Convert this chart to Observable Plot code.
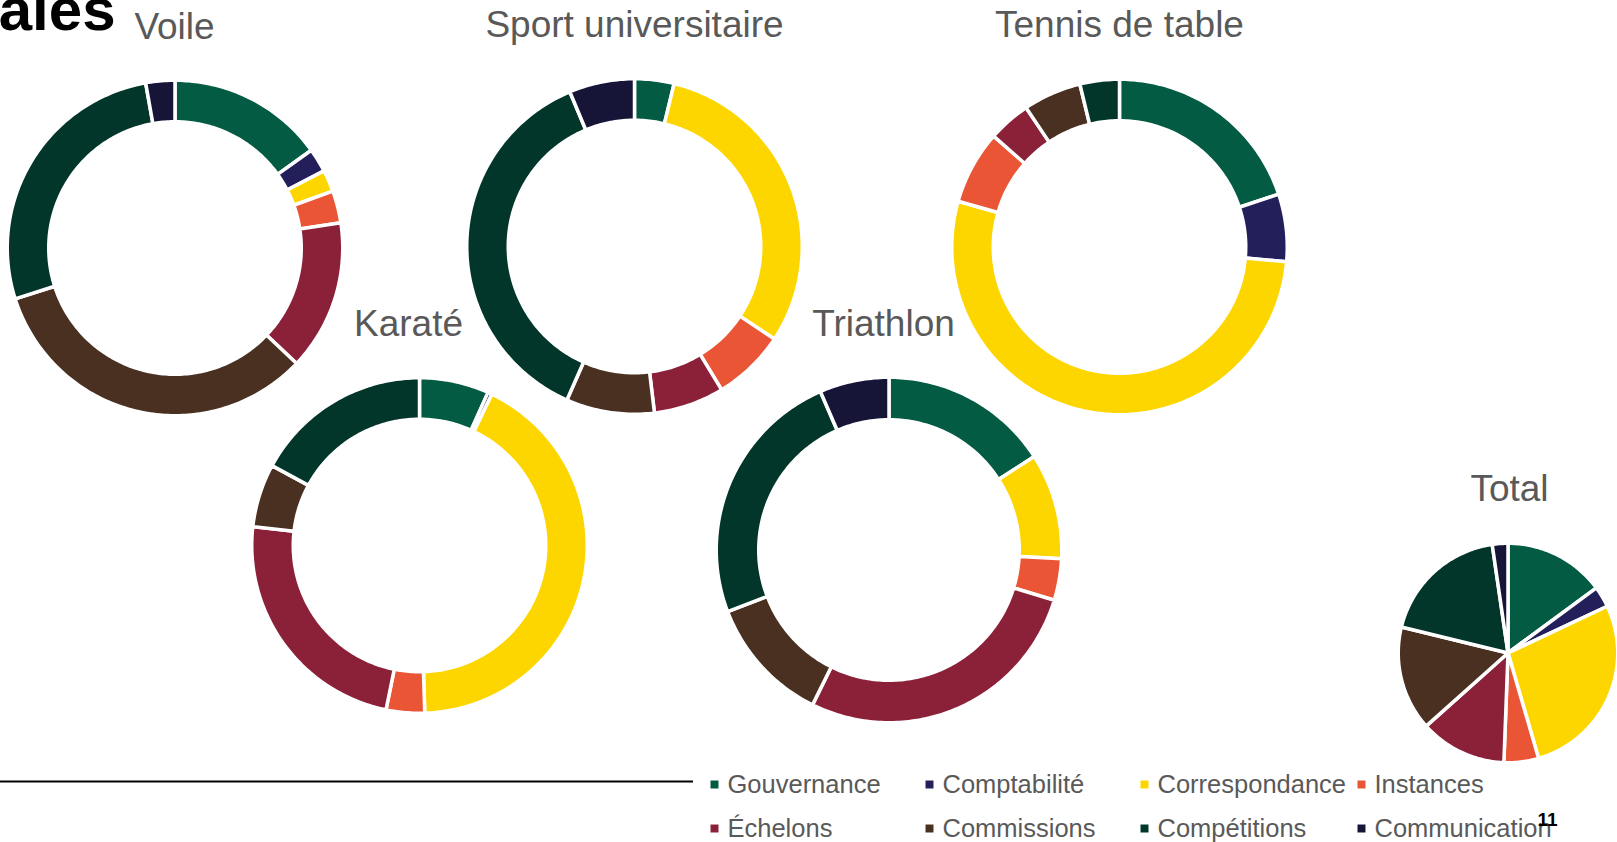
<!DOCTYPE html>
<html>
<head>
<meta charset="utf-8">
<script src="https://cdn.jsdelivr.net/npm/d3@7"></script>
<script src="https://cdn.jsdelivr.net/npm/@observablehq/plot@0.6"></script>
<style>
html,body{margin:0;padding:0;background:#fff;overflow:hidden}
svg{display:block}
</style>
</head>
<body>
<div id="chart"></div>
<script>
// ---------- DATA ----------
const categories = ["Gouvernance","Comptabilité","Correspondance","Instances","Échelons","Commissions","Compétitions","Communication"];
const colors = ["#025B42","#221F5B","#FDD600","#E95535","#8B2139","#4A3020","#02362A","#161538"];
const charts = ["Voile","Sport universitaire","Tennis de table","Karaté","Triathlon","Total"];
// shares in % (order = categories), read clockwise from 12 o'clock
const voile     = [15.1, 2.3, 2.1, 3.1, 14.5, 33.0, 27.1, 2.8];
const sportUniv = [3.8, 0, 30.5, 7.0, 6.8, 8.5, 37.1, 6.3];
const tennis    = [19.9, 6.5, 53.0, 7.1, 4.1, 5.6, 3.8, 0];
const karate    = [6.7, 0.4, 42.4, 3.7, 23.6, 6.1, 17.1, 0];
const triathlon = [15.9, 0, 9.9, 3.9, 27.6, 11.9, 24.3, 6.5];
const total     = [14.9, 3.1, 27.5, 5.1, 12.8, 15.4, 18.9, 2.3];
const seriesValues = [voile, sportUniv, tennis, karate, triathlon, total];
const pageTitle = "ales";
const pageNumber = "11";

// ---------- LAYOUT ----------
const W = 1617, H = 842;
const centers = [[175,248],[634.5,246.5],[1119.5,247],[419.5,545.5],[889,550],[1508,653]];
const outerR = [166,166,166,166,171,108];
const innerR = [128,128,128,128,132,0];
const titlePos = [[174,38],[634,36],[1119,36],[408,335],[883,335],[1509,500]];
const legendX = [714, 929, 1144, 1361];
const legendY = [784, 828];
const gap = 3.5;

// build slice outlines from the values
const slices = [];
charts.forEach((name, ci) => {
  const vals = seriesValues[ci];
  const sum = d3.sum(vals);
  const [cx, cy] = centers[ci];
  const R = outerR[ci] + gap / 2;
  const r = innerR[ci] > 0 ? innerR[ci] - gap / 2 : 0;
  let acc = 0;
  vals.forEach((v, k) => {
    const a0 = acc / sum * 2 * Math.PI;
    acc += v;
    const a1 = acc / sum * 2 * Math.PI;
    if (!(v > 0)) return;
    const n = Math.max(2, Math.ceil((a1 - a0) / (Math.PI / 180)) + 1);
    for (let i = 0; i < n; i++) {
      const a = a0 + (a1 - a0) * i / (n - 1);
      slices.push({
        id: name + "|" + k,
        category: categories[k],
        x1: cx + R * Math.sin(a), y1: cy - R * Math.cos(a),
        x2: cx + r * Math.sin(a), y2: cy - r * Math.cos(a)
      });
    }
  });
});

const titles = charts.map((c, i) => ({label: c, x: titlePos[i][0], y: titlePos[i][1]}));
const legend = categories.map((c, i) => ({category: c, x: legendX[i % 4], y: legendY[Math.floor(i / 4)]}));

const font = '"Liberation Sans", Arial, Helvetica, sans-serif';

const plot = Plot.plot({
  width: W,
  height: H,
  margin: 0,
  x: {domain: [0, W], range: [0, W], axis: null},
  y: {domain: [0, H], range: [0, H], axis: null},
  color: {domain: categories, range: colors},
  style: {fontFamily: font, background: "#fff", overflow: "hidden"},
  marks: [
    Plot.area(slices, {
      x1: "x1", y1: "y1", x2: "x2", y2: "y2",
      z: "id", fill: "category",
      stroke: "white", strokeWidth: gap, strokeLinejoin: "round",
      curve: "linear"
    }),
    Plot.text(titles, {
      x: "x", y: "y", text: "label",
      fontSize: 37, fill: "#595959",
      textAnchor: "middle", lineAnchor: "bottom"
    }),
    Plot.ruleY([781], {x1: 0, x2: 693, stroke: "black", strokeWidth: 2}),
    Plot.dot(legend, {x: "x", y: "y", fill: "category", symbol: "square", r: 4.5}),
    Plot.text(legend, {
      x: d => d.x + 13, y: "y", text: "category",
      fontSize: 25.5, fill: "#595959",
      textAnchor: "start", lineAnchor: "middle"
    }),
    Plot.text([pageTitle], {
      x: 115, y: 29, text: d => d,
      fontSize: 60, fontWeight: "bold", fill: "black",
      textAnchor: "end", lineAnchor: "bottom"
    }),
    Plot.text([pageNumber], {
      x: 1547, y: 825, text: d => d,
      fontSize: 19, fontWeight: "bold", fill: "black",
      textAnchor: "middle", lineAnchor: "bottom"
    })
  ]
});
document.getElementById("chart").appendChild(plot);
</script>
</body>
</html>
